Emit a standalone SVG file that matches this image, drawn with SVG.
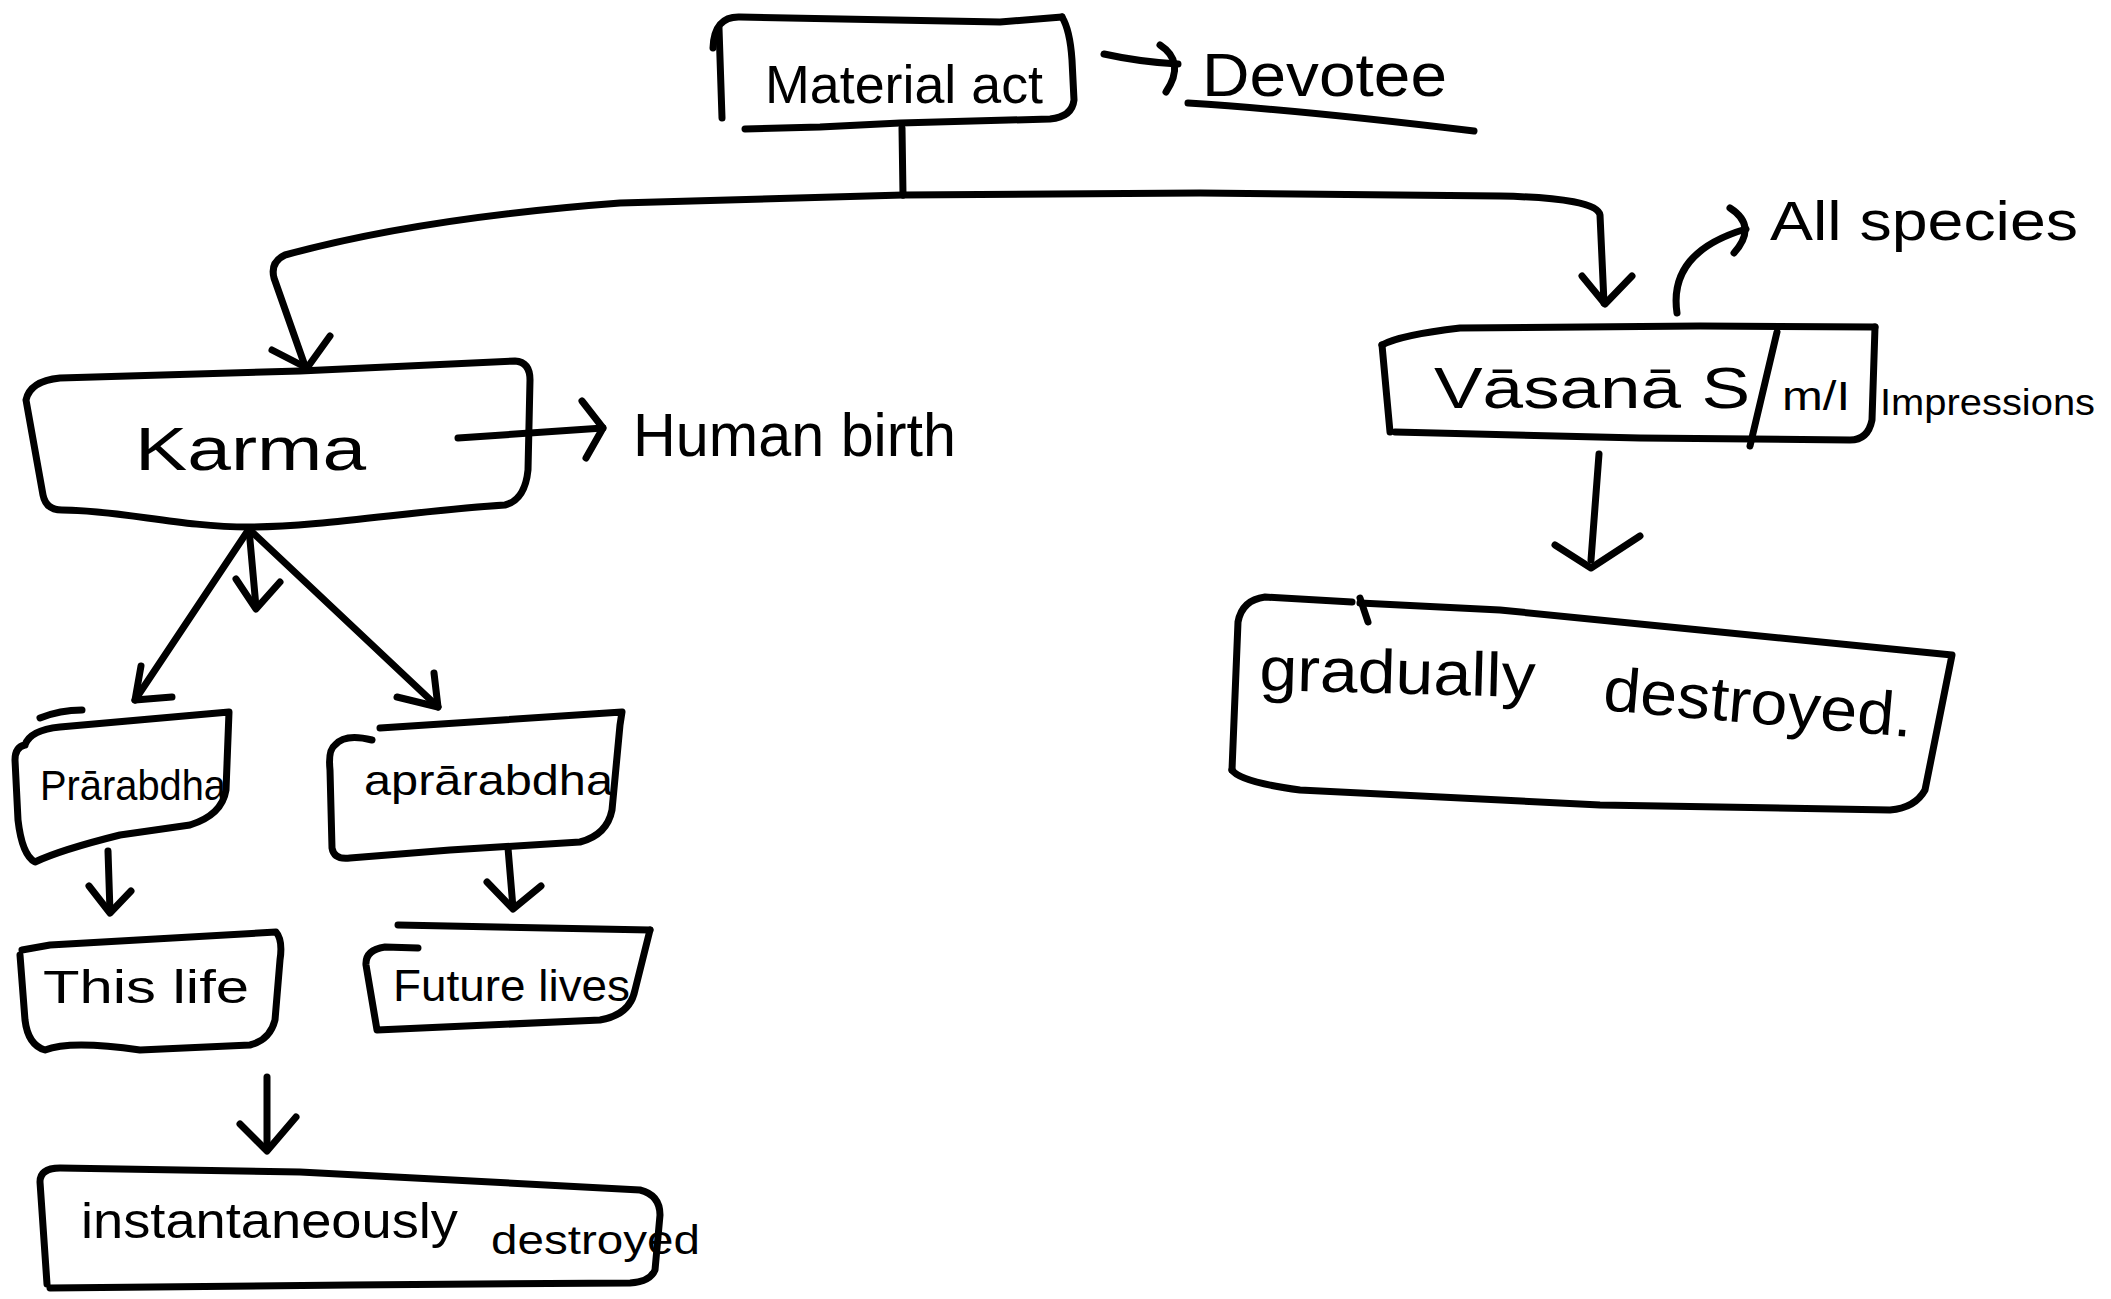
<svg xmlns="http://www.w3.org/2000/svg" width="2111" height="1299" viewBox="0 0 2111 1299">
<style>
.s{fill:none;stroke:#000;stroke-width:7;stroke-linecap:round;stroke-linejoin:round}
.t{font-family:"Liberation Sans",Arial,sans-serif;fill:#000}
</style>
<rect width="2111" height="1299" fill="#fff"/>
<g id="connectors">
  <!-- Material act -> Devotee -->
  <path class="s" d="M1104 54 Q1140 62 1178 64"/>
  <path class="s" d="M1160 45 Q1186 62 1166 92"/>
  <!-- trunk -->
  <path class="s" d="M902 128 L903 195"/>
  <path class="s" d="M903 195 L620 203 Q420 218 285 255 Q270 262 274 278 L305 366"/>
  <path class="s" d="M272 350 L307 368 L330 336"/>
  <path class="s" d="M903 195 L1200 193 L1500 196 Q1597 198 1600 215 L1604 303"/>
  <path class="s" d="M1582 276 L1605 304 L1632 276"/>
  <!-- Karma -> Human birth -->
  <path class="s" d="M458 438 L603 428"/>
  <path class="s" d="M582 401 L603 428 L586 458"/>
  <!-- Karma -> children -->
  <path class="s" d="M249 529 L135 700"/>
  <path class="s" d="M141 666 L135 700 L172 697"/>
  <path class="s" d="M249 529 L256 607"/>
  <path class="s" d="M236 579 L256 609 L280 582"/>
  <path class="s" d="M249 529 L438 707"/>
  <path class="s" d="M397 697 L438 707 L434 673"/>
  <!-- Prarabdha -> This life -->
  <path class="s" d="M108 851 L110 912"/>
  <path class="s" d="M89 886 L110 913 L131 891"/>
  <!-- Aprarabdha -> Future lives -->
  <path class="s" d="M508 848 L513 908"/>
  <path class="s" d="M487 882 L513 909 L541 886"/>
  <!-- This life -> instantaneously -->
  <path class="s" d="M267 1077 L267 1150"/>
  <path class="s" d="M240 1124 L267 1151 L296 1117"/>
  <!-- Vasana -> All species -->
  <path class="s" d="M1677 313 Q1668 252 1746 229"/>
  <path class="s" d="M1730 208 Q1758 226 1734 253"/>
  <!-- Vasana -> gradually -->
  <path class="s" d="M1599 454 L1591 560"/>
  <path class="s" d="M1555 545 L1591 568 L1640 536"/>
</g>
<g id="material-act">
  <path class="s" d="M722 118 L719 28"/>
  <path class="s" d="M713 48 Q714 16 740 17 L1000 22 L1062 17"/>
  <path class="s" d="M1062 17 Q1070 30 1072 60 L1074 100 Q1072 117 1050 119 L900 123 L820 127 L745 129"/>
  <text class="t" x="765" y="103" font-size="54" textLength="278" lengthAdjust="spacingAndGlyphs">Material act</text>
</g>
<g id="devotee">
  <text class="t" x="1202" y="96" font-size="62" textLength="245" lengthAdjust="spacingAndGlyphs">Devotee</text>
  <path class="s" d="M1188 103 Q1300 110 1474 131"/>
</g>
<g id="karma">
  <path class="s" d="M26 400 Q30 381 60 378 L300 371 L515 361 Q530 362 530 380 L528 470 Q525 500 505 505 C420 510 320 527 249 527 C180 527 120 510 62 510 Q46 510 43 495 Z"/>
  <text class="t" x="135" y="470" font-size="62" textLength="231" lengthAdjust="spacingAndGlyphs">Karma</text>
</g>
<g id="human-birth">
  <text class="t" x="633" y="456" font-size="62" textLength="323" lengthAdjust="spacingAndGlyphs">Human birth</text>
</g>
<g id="vasana">
  <path class="s" d="M1382 345 Q1400 335 1460 328 L1700 326 L1875 327"/>
  <path class="s" d="M1875 327 L1872 420 Q1868 440 1850 440 L1640 438 L1395 432"/>
  <path class="s" d="M1382 345 L1390 432"/>
  <path class="s" d="M1777 332 L1750 446"/>
  <text class="t" x="1434" y="408" font-size="58" textLength="316" lengthAdjust="spacingAndGlyphs">Vāsanā S</text>
  <text class="t" x="1782" y="410" font-size="40" textLength="68" lengthAdjust="spacingAndGlyphs">m/I</text>
</g>
<g id="impressions">
  <text class="t" x="1880" y="415" font-size="36" textLength="215" lengthAdjust="spacingAndGlyphs">Impressions</text>
</g>
<g id="all-species">
  <text class="t" x="1770" y="240" font-size="56" textLength="308" lengthAdjust="spacingAndGlyphs">All species</text>
</g>
<g id="prarabdha">
  <path class="s" d="M40 718 Q60 710 82 710"/>
  <path class="s" d="M25 745 Q30 730 60 727 L229 712 L226 790 Q222 815 190 825 L120 835 Q60 850 35 862 Q22 855 18 820 L15 760 Q15 747 25 745"/>
  <text class="t" x="40" y="800" font-size="42" textLength="186" lengthAdjust="spacingAndGlyphs">Prārabdha</text>
</g>
<g id="aprarabdha">
  <path class="s" d="M372 740 Q345 733 335 745 Q328 750 330 770 L332 848 Q334 860 350 858 L450 850 L580 842 Q607 835 612 810 L620 725 L622 712 L380 728"/>
  <text class="t" x="364" y="795" font-size="42" textLength="249" lengthAdjust="spacingAndGlyphs">aprārabdha</text>
</g>
<g id="this-life">
  <path class="s" d="M22 950 L50 945 L276 932 Q283 940 280 960 L275 1020 Q270 1040 250 1045 L140 1050 Q70 1040 45 1050 Q28 1045 25 1020 L20 955"/>
  <text class="t" x="43" y="1003" font-size="46" textLength="206" lengthAdjust="spacingAndGlyphs">This life</text>
</g>
<g id="future-lives">
  <path class="s" d="M398 925 L650 930"/>
  <path class="s" d="M418 948 L385 947 Q365 950 366 965 L377 1030 L600 1020 Q630 1015 635 990 L650 930"/>
  <text class="t" x="393" y="1001" font-size="44" textLength="237" lengthAdjust="spacingAndGlyphs">Future lives</text>
</g>
<g id="instantaneously-destroyed">
  <path class="s" d="M47 1284 L40 1182 Q40 1168 60 1168 L300 1172 L640 1190 Q660 1195 660 1215 L655 1270 Q650 1282 630 1283 L350 1285 L50 1288"/>
  <text class="t" x="81" y="1238" font-size="50" textLength="377" lengthAdjust="spacingAndGlyphs">instantaneously</text>
  <text class="t" x="491" y="1254" font-size="40" textLength="209" lengthAdjust="spacingAndGlyphs">destroyed</text>
</g>
<g id="gradually-destroyed">
  <path class="s" d="M1232 770 L1238 622 Q1242 600 1265 597 L1352 602"/>
  <path class="s" d="M1360 598 L1368 622"/>
  <path class="s" d="M1360 603 L1500 610 L1700 630 L1952 655 L1925 790 Q1915 808 1890 810 L1600 805 L1300 790 Q1240 782 1232 770"/>
  <text class="t" x="1259" y="690" font-size="62" textLength="276" lengthAdjust="spacingAndGlyphs" transform="rotate(1.5 1259 690)">gradually</text>
  <text class="t" x="1602" y="710" font-size="62" textLength="310" lengthAdjust="spacingAndGlyphs" transform="rotate(5 1602 710)">destroyed.</text>
</g>
</svg>
